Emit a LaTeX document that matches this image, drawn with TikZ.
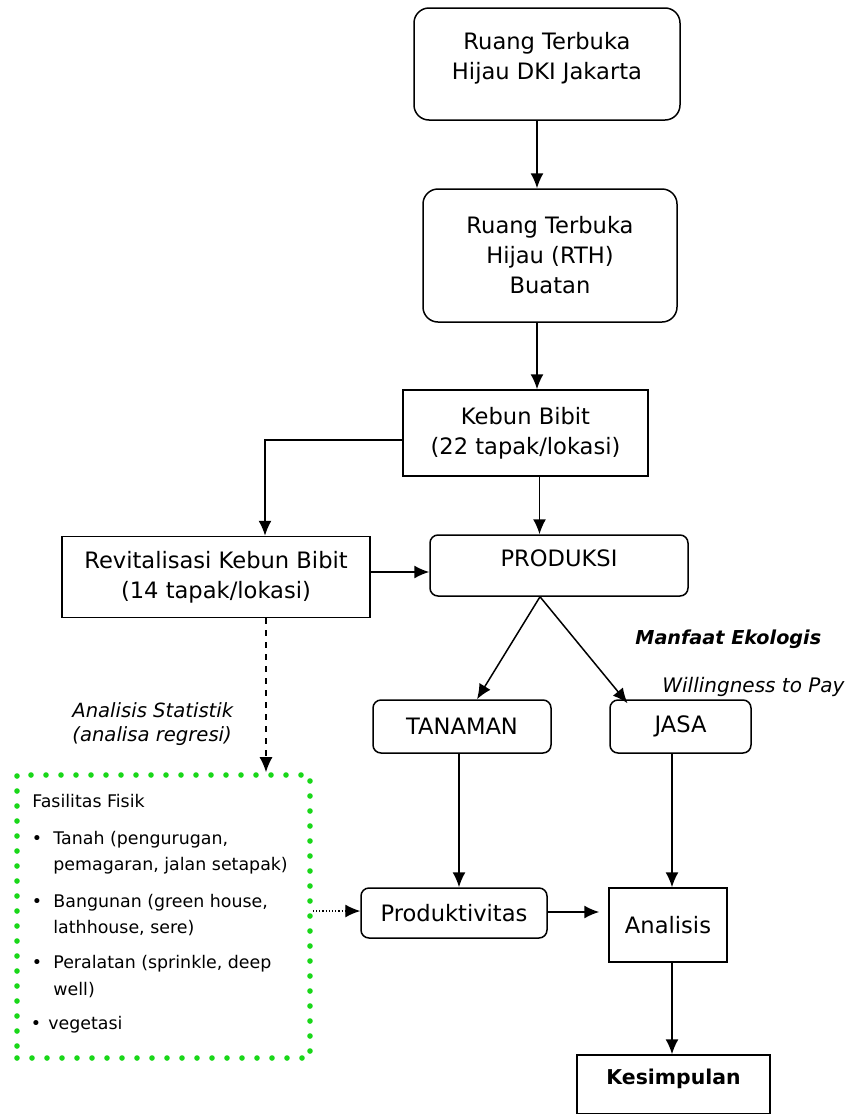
\documentclass[tikz,border=0pt]{standalone}
\usepackage{fontspec}
\setmainfont{DejaVu Sans}
\usetikzlibrary{arrows.meta}
\definecolor{dotgreen}{RGB}{25,215,25}
\tikzset{
  box/.style={draw, line width=0.75pt, align=center, inner sep=0pt, font=\fontsize{11.3}{15}\selectfont},
  rbox/.style={box, rounded corners=4pt},
  greenbox/.style={draw=dotgreen, line width=2.8pt, line cap=round, dash pattern=on 0pt off 7.5pt},
  arr/.style={-{Latex[length=7.5pt,width=6.5pt]}, line width=0.75pt},
  itemtext/.style={anchor=base west, inner sep=0pt, font=\fontsize{8.7}{10}\selectfont},
  dot/.style={anchor=base, inner sep=0pt, font=\fontsize{8.7}{10}\selectfont},
  note/.style={anchor=base west, inner sep=0pt, font=\fontsize{9.8}{12}\selectfont\itshape},
}
\begin{document}
\begin{tikzpicture}[x=0.5pt,y=-0.5pt]
  \useasboundingbox (0,0) rectangle (848,1114);
  % boxes
  \node[rbox, rounded corners=7.5pt, minimum width=133pt, minimum height=56pt] (rthdki) at (547,64) {Ruang Terbuka\\Hijau DKI Jakarta\\[-7pt]\mbox{}};
  \node[rbox, rounded corners=7.5pt, minimum width=127pt, minimum height=66.5pt] (rthbuatan) at (550,255.5) {Ruang Terbuka\\Hijau (RTH)\\Buatan};
  \node[box, minimum width=122.5pt, minimum height=43pt] (kebun) at (525.5,433) {Kebun Bibit\\(22 tapak/lokasi)};
  \node[box, minimum width=154pt, minimum height=40.5pt] (revit) at (216,577) {Revitalisasi Kebun Bibit\\(14 tapak/lokasi)};
  \node[rbox, minimum width=129pt, minimum height=30.5pt] (produksi) at (559,565.5) {PRODUKSI\\[-8pt]\mbox{}};
  \node[rbox, minimum width=89pt, minimum height=26.5pt] (tanaman) at (462,726.5) {TANAMAN};
  \node[rbox, minimum width=70.5pt, minimum height=26.5pt] (jasa) at (680.5,726.5) {JASA};
  \node[rbox, minimum width=93pt, minimum height=25pt] (produk) at (454,913) {Produktivitas};
  \node[box, minimum width=59pt, minimum height=37pt] (analisis) at (668,925) {Analisis};
  \node[box, minimum width=96.5pt, minimum height=29.5pt, font=\fontsize{10.2}{12}\selectfont\bfseries] (kesimpulan) at (673.5,1084.5) {Kesimpulan\\[-4pt]\mbox{}};
  \node[greenbox, minimum width=146.5pt, minimum height=141.5pt] (fasilitas) at (163.5,916.5) {};
  % labels
  \node[note] (anstat) at (72,717) {Analisis Statistik};
  \node[note] (regresi) at (72,741) {(analisa regresi)};
  \node[note, font=\fontsize{9.6}{12}\selectfont\bfseries\itshape] (manfaat) at (635,644) {Manfaat Ekologis};
  \node[note, font=\fontsize{10}{12}\selectfont\itshape] (wtp) at (662,692) {Willingness to Pay};
  % isi fasilitas fisik
  \node[itemtext] (fisik) at (32,807) {Fasilitas Fisik};
  \node[dot] (d1) at (37,844) {•};
  \node[itemtext] (tanah) at (53,844) {Tanah (pengurugan,};
  \node[itemtext] (tanah2) at (53,870) {pemagaran, jalan setapak)};
  \node[dot] (d2) at (37,907) {•};
  \node[itemtext] (bangunan) at (53,907) {Bangunan (green house,};
  \node[itemtext] (bangunan2) at (53,933) {lathhouse, sere)};
  \node[dot] (d3) at (37,968) {•};
  \node[itemtext] (alat) at (53,968) {Peralatan (sprinkle, deep};
  \node[itemtext] (alat2) at (53,995) {well)};
  \node[dot] (d4) at (36,1029) {•};
  \node[itemtext] (veg) at (48,1029) {vegetasi};
  % arrows
  \draw[arr] ([xshift=-5pt]rthdki.south) -- ([xshift=-5pt]rthdki.south |- rthbuatan.north);
  \draw[arr] ([xshift=-6.5pt]rthbuatan.south) -- ([xshift=-6.5pt]rthbuatan.south |- kebun.north);
  \draw[arr] ([yshift=-3.5pt]kebun.west) -| ([xshift=24.5pt]revit.north);
  \draw[arr] ([xshift=7pt]kebun.south) -- ([xshift=7pt]kebun.south |- produksi.north);
  \draw[arr] ([yshift=2.5pt]revit.east) -- ([yshift=2.5pt]revit.east -| produksi.west);
  \coordinate (split) at ([xshift=-9.5pt]produksi.south);
  \draw[arr] (split) -- ([xshift=7.5pt]tanaman.north);
  \draw[arr] (split) -- ([xshift=-26.5pt,yshift=-2pt]jasa.north);
  \draw[arr] ([xshift=-1.5pt]tanaman.south) -- ([xshift=-1.5pt]tanaman.south |- produk.north);
  \draw[arr] ([xshift=2pt]analisis.north |- jasa.south) -- ([xshift=2pt]analisis.north);
  \draw[arr, shorten >=4.5pt] ([yshift=0.5pt]produk.east) -- ([yshift=0.5pt]produk.east -| analisis.west);
  \draw[arr] ([xshift=2pt]analisis.south) -- ([xshift=2pt]analisis.south |- kesimpulan.north);
  \draw[arr, dashed] ([xshift=25pt]revit.south) -- ([xshift=25pt]revit.south |- fasilitas.north);
  \draw[arr, line width=0.6pt, dash pattern=on 0.6pt off 1pt] ([yshift=2.75pt]fasilitas.east) -- ([yshift=2.75pt]fasilitas.east -| produk.west);
\end{tikzpicture}
\end{document}
